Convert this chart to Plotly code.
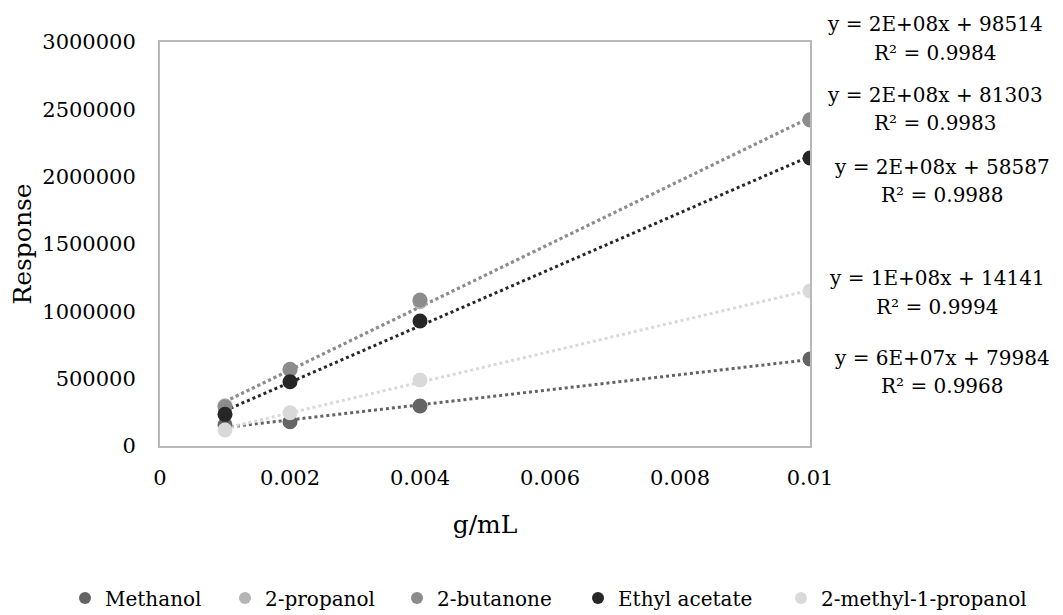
import numpy as np
import plotly.graph_objects as go

conc = [0.001, 0.002, 0.004, 0.01]
series_names = ["Methanol", "2-propanol", "2-butanone", "Ethyl acetate", "2-methyl-1-propanol"]
methanol = [156000, 180000, 297000, 646000]
propanol2 = [298000, 565000, 1072000, 2425000]
butanone2 = [292000, 570000, 1084000, 2421000]
ethyl_acetate = [235000, 477000, 928000, 2139000]
methyl_propanol = [119000, 247000, 490000, 1151000]
eq_lines = [
    "y = 6E+07x + 79984",
    "y = 2E+08x + 98514",
    "y = 2E+08x + 81303",
    "y = 2E+08x + 58587",
    "y = 1E+08x + 14141",
]
r2_lines = [
    "R² = 0.9968",
    "R² = 0.9984",
    "R² = 0.9983",
    "R² = 0.9988",
    "R² = 0.9994",
]
x_tickvals = [0, 0.002, 0.004, 0.006, 0.008, 0.01]
x_ticktext = ["0", "0.002", "0.004", "0.006", "0.008", "0.01"]
y_tickvals = [0, 500000, 1000000, 1500000, 2000000, 2500000, 3000000]
y_ticktext = ["0", "500000", "1000000", "1500000", "2000000", "2500000", "3000000"]

values = [methanol, propanol2, butanone2, ethyl_acetate, methyl_propanol]
colors = ["#646464", "#b4b4b4", "#8c8c8c", "#262626", "#d9d9d9"]
draw_order = [1, 2, 0, 4, 3]

# page body has an 8px margin: work in screenshot pixels then shift
OFF = 8
SW, SH = 1063, 615
W, H = SW - OFF, SH - OFF
L, R, T, B = 160 - OFF, 810 - OFF, 42 - OFF, 446 - OFF

# annotation positions in screenshot pixels: center x, line1 y, line2 y
ann_px = [(942, 358, 386), (935, 24, 53), (935, 95, 123), (942, 167, 195), (937, 278, 307)]
# legend text start x (screenshot pixels), legend center y
legend_text_x = [102, 262, 434, 615, 818]
legend_y = 598

def px_to_paper(px, py):
    return (px - OFF - L) / (R - L), (B - (py - OFF)) / (B - T)

FONT = "DejaVu Serif"
fig = go.Figure()

for i in draw_order:
    xs = np.array(conc)
    ys = np.array(values[i])
    m, b = np.polyfit(xs, ys, 1)
    xl = np.array([xs.min(), xs.max()])
    fig.add_trace(go.Scatter(x=xl, y=m * xl + b, mode="lines",
                             line=dict(color=colors[i], width=3, dash="dot"),
                             showlegend=False, hoverinfo="skip"))

legend_ids = ["legend", "legend2", "legend3", "legend4", "legend5"]
for i in draw_order:
    fig.add_trace(go.Scatter(x=conc, y=values[i], mode="markers", name=series_names[i],
                             marker=dict(color=colors[i], size=15),
                             legend=legend_ids[i]))

for (cx, y1, y2), t1, t2 in zip(ann_px, eq_lines, r2_lines):
    for yy, tt in ((y1, t1), (y2, t2)):
        px, py = px_to_paper(cx, yy)
        fig.add_annotation(x=px, y=py, xref="paper", yref="paper", text=tt,
                           showarrow=False, xanchor="center", yanchor="middle",
                           align="center", font=dict(family=FONT, size=20, color="#000000"))

legend_layout = {}
for lid, tx in zip(legend_ids, legend_text_x):
    legend_layout[lid] = dict(
        orientation="h", xref="container", yref="container",
        x=(tx - OFF - 37) / W, y=1 - (legend_y - OFF) / H,
        xanchor="left", yanchor="middle",
        font=dict(family=FONT, size=20, color="#000000"),
        itemwidth=30, itemsizing="constant", bgcolor="rgba(0,0,0,0)")

fig.update_layout(
    width=W, height=H,
    margin=dict(l=L, r=W - R, t=T, b=H - B, autoexpand=False),
    paper_bgcolor="white", plot_bgcolor="white",
    font=dict(family=FONT, size=21, color="#000000"),
    showlegend=True,
    xaxis=dict(range=[0, 0.01], tickvals=x_tickvals, ticktext=x_ticktext,
               showgrid=False, zeroline=False, showline=True, mirror=True,
               linecolor="#b8b8b8", linewidth=2, ticks="", ticklen=0,
               ticklabelstandoff=12, automargin=False,
               title=dict(text="g/mL", standoff=26)),
    yaxis=dict(range=[0, 3000000], tickvals=y_tickvals, ticktext=y_ticktext,
               showgrid=False, zeroline=False, showline=True, mirror=True,
               linecolor="#b8b8b8", linewidth=2, ticks="", ticklen=0,
               ticklabelstandoff=18, automargin=False,
               title=dict(text="Response", standoff=8)),
    **legend_layout,
)

fig.write_html("out.html")
